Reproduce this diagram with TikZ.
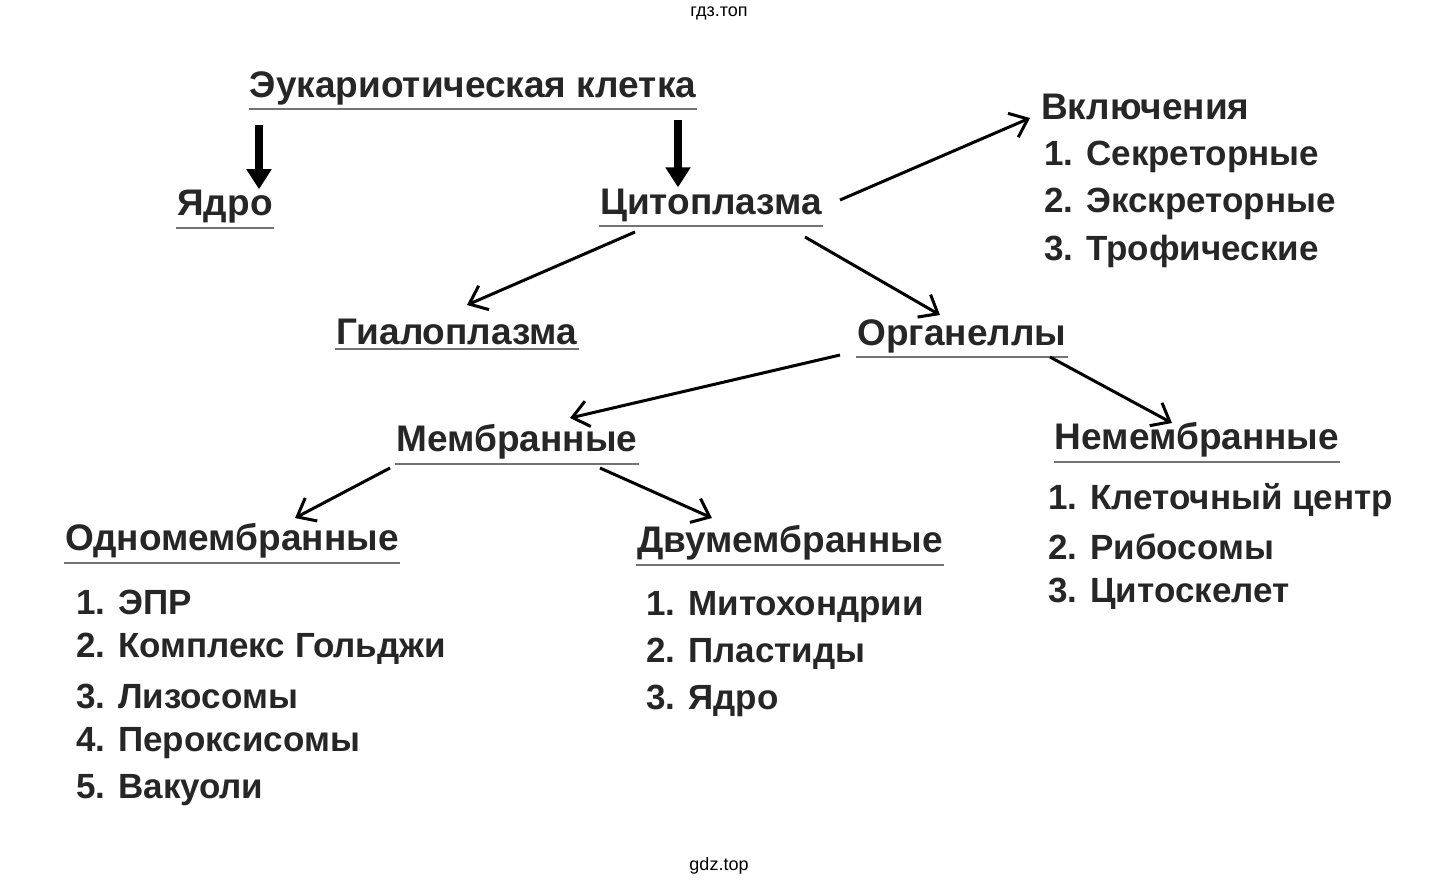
\documentclass[tikz,border=0pt]{standalone}
\usepackage{fontspec}
\setmainfont{Liberation Sans}
\usetikzlibrary{arrows.meta}
\tikzset{
	head/.style={font=\fontsize{37}{40}\selectfont\bfseries, text=black!85, inner sep=1pt},
	item/.style={font=\fontsize{35}{38}\selectfont\bfseries, text=black!85, anchor=west, inner sep=1pt},
	sitemark/.style={font=\fontsize{18}{20}\selectfont},
	uline/.style={draw=black!55, line width=2pt},
	link/.style={-{Straight Barb[length=16pt,width=26pt]}, line width=3pt},
	block/.style={-{Triangle[length=20pt,width=24pt]}, line width=8pt}
}
\newcommand{\uln}[1]{\draw[uline] ([yshift=-3pt]#1.south west) -- ([yshift=-3pt]#1.south east);}
\begin{document}
\begin{tikzpicture}[x=1pt, y=-1pt]
	\useasboundingbox (0,0) rectangle (1441,887);

	\node[sitemark] (top) at (719,13) {гдз.топ};
	\node[sitemark] (bottom) at (719,866) {gdz.top};

	\node[head] (cell) at (473,88) {Эукариотическая клетка};
	\node[head] (nucl) at (225,207) {Ядро};
	\node[head] (cyto) at (711,205) {Цитоплазма};
	\node[head, anchor=west] (incl) at (1040,107) {Включения};
	\node[head] (hyal) at (457,332) {Гиалоплазма};
	\node[head] (orgn) at (962,336) {Органеллы};
	\node[head] (memb) at (517,442) {Мембранные};
	\node[head] (nonm) at (1197,440) {Немембранные};
	\node[head] (onem) at (232,541) {Одномембранные};
	\node[head] (twom) at (790,543) {Двумембранные};
	\foreach \n in {cell,nucl,cyto,hyal,orgn,memb,nonm,onem,twom} {\uln{\n}}

	% lists
	\node[item] (i1) at (1043,157) {1. Секреторные};
	\node[item] (i2) at (1043,204) {2. Экскреторные};
	\node[item] (i3) at (1043,251) {3. Трофические};

	\node[item] (n1) at (1047,500) {1. Клеточный центр};
	\node[item] (n2) at (1047,547) {2. Рибосомы};
	\node[item] (n3) at (1047,594) {3. Цитоскелет};

	\node[item] (o1) at (75,602) {1. ЭПР};
	\node[item] (o2) at (75,649) {2. Комплекс Гольджи};
	\node[item] (o3) at (75,696) {3. Лизосомы};
	\node[item] (o4) at (75,743) {4. Пероксисомы};
	\node[item] (o5) at (75,790) {5. Вакуоли};

	\node[item] (d1) at (645,607) {1. Митохондрии};
	\node[item] (d2) at (645,654) {2. Пластиды};
	\node[item] (d3) at (645,701) {3. Ядро};

	% arrows
	\coordinate (a1) at (259,125); \coordinate (a2) at (678,120);
	\draw[block] (a1) -- (nucl.north -| a1);
	\draw[block] (a2) -- (cyto.north -| a2);

	\coordinate (c1) at (840,200); \coordinate (c2) at (1030,118);
	\draw[link] (c1) -- (c2);
	\coordinate (c3) at (635,232); \coordinate (c4) at (467,305);
	\draw[link] (c3) -- (c4);
	\coordinate (c5) at (805,237); \coordinate (c6) at (940,315);
	\draw[link] (c5) -- (c6);
	\coordinate (c7) at (840,355); \coordinate (c8) at (570,418);
	\draw[link] (c7) -- (c8);
	\coordinate (c9) at (1050,357); \coordinate (c10) at (1172,423);
	\draw[link] (c9) -- (c10);
	\coordinate (c11) at (390,468); \coordinate (c12) at (295,518);
	\draw[link] (c11) -- (c12);
	\coordinate (c13) at (600,468); \coordinate (c14) at (712,518);
	\draw[link] (c13) -- (c14);
\end{tikzpicture}
\end{document}
